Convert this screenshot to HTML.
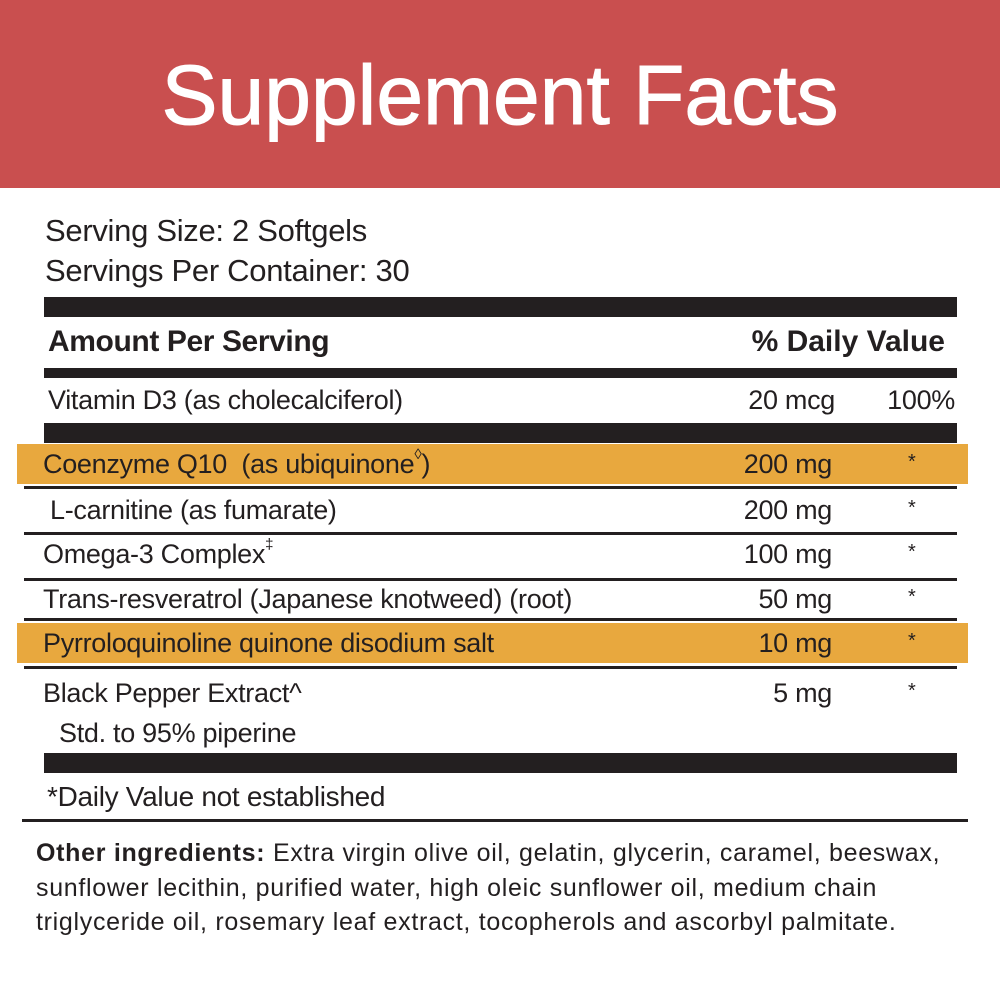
<!DOCTYPE html>
<html><head><meta charset="utf-8"><style>
body{margin:0;width:1000px;height:1000px;background:#fff;position:relative;overflow:hidden;font-family:"Liberation Sans",sans-serif;color:#231f20}
.hd{position:absolute;left:0;top:0;width:1000px;height:188px;background:#c94f4f}
.title{position:absolute;left:0;top:45px;width:1000px;text-align:center;color:#fff;font-size:84px;line-height:100px;-webkit-text-stroke:1px #fff}
.t{position:absolute;font-size:27px;line-height:30px;white-space:nowrap;letter-spacing:-0.3px}
.b{position:absolute;background:#231f20}
.o{position:absolute;background:#e8a83e}
.r{text-align:right}
.s{position:absolute;font-size:20px;line-height:30px}
sup{font-size:15px;line-height:0;position:relative;top:-4px;vertical-align:super}
.small{font-size:25px;line-height:34.5px;position:absolute;left:36px;top:836px;width:960px;color:#231f20;letter-spacing:0.7px;white-space:nowrap}
</style></head><body>
<div class="hd"></div>
<div class="title">Supplement Facts</div>
<div class="t" style="left:45px;top:216px;font-size:31px">Serving Size: 2 Softgels</div>
<div class="t" style="left:45px;top:256px;font-size:31px">Servings Per Container: 30</div>
<div class="b" style="left:44px;top:297px;width:913px;height:20px"></div>
<div class="t" style="left:48px;top:327px;font-weight:bold;font-size:30px;letter-spacing:-0.4px">Amount Per Serving</div>
<div class="t r" style="left:700px;width:245px;top:327px;font-weight:bold;font-size:30px;letter-spacing:0px">% Daily Value</div>
<div class="b" style="left:44px;top:368px;width:913px;height:10px"></div>
<div class="t" style="left:48px;top:385px">Vitamin D3 (as cholecalciferol)</div>
<div class="t r" style="left:700px;width:135px;top:385px">20 mcg</div>
<div class="t r" style="left:850px;width:105px;top:385px">100%</div>
<div class="b" style="left:44px;top:423px;width:913px;height:20px"></div>
<div class="o" style="left:17px;top:444px;width:951px;height:40px"></div>
<div class="t" style="left:43px;top:449px">Coenzyme Q10&nbsp; (as ubiquinone<sup>◊</sup>)</div>
<div class="t r" style="left:700px;width:132px;top:449px">200 mg</div>
<div class="s" style="left:908px;top:447px">*</div>
<div class="b" style="left:24px;top:486px;width:933px;height:3px"></div>
<div class="t" style="left:50px;top:495px">L-carnitine (as fumarate)</div>
<div class="t r" style="left:700px;width:132px;top:495px">200 mg</div>
<div class="s" style="left:908px;top:493px">*</div>
<div class="b" style="left:24px;top:532px;width:933px;height:3px"></div>
<div class="t" style="left:43px;top:539px">Omega-3 Complex<sup>‡</sup></div>
<div class="t r" style="left:700px;width:132px;top:539px">100 mg</div>
<div class="s" style="left:908px;top:537px">*</div>
<div class="b" style="left:24px;top:578px;width:933px;height:3px"></div>
<div class="t" style="left:43px;top:584px">Trans-resveratrol (Japanese knotweed) (root)</div>
<div class="t r" style="left:700px;width:132px;top:584px">50 mg</div>
<div class="s" style="left:908px;top:582px">*</div>
<div class="b" style="left:24px;top:618px;width:933px;height:3px"></div>
<div class="o" style="left:17px;top:623px;width:951px;height:40px"></div>
<div class="t" style="left:43px;top:628px">Pyrroloquinoline quinone disodium salt</div>
<div class="t r" style="left:700px;width:132px;top:628px">10 mg</div>
<div class="s" style="left:908px;top:626px">*</div>
<div class="b" style="left:24px;top:666px;width:933px;height:3px"></div>
<div class="t" style="left:43px;top:678px">Black Pepper Extract^</div>
<div class="t r" style="left:700px;width:132px;top:678px">5 mg</div>
<div class="s" style="left:908px;top:676px">*</div>
<div class="t" style="left:59px;top:718px">Std. to 95% piperine</div>
<div class="b" style="left:44px;top:753px;width:913px;height:20px"></div>
<div class="t" style="left:47px;top:782px;font-size:28px">*Daily Value not established</div>
<div class="b" style="left:22px;top:819px;width:946px;height:3px"></div>
<div class="small"><b>Other ingredients:</b> Extra virgin olive oil, gelatin, glycerin, caramel, beeswax,<br>sunflower lecithin, purified water, high oleic sunflower oil, medium chain<br>triglyceride oil, rosemary leaf extract, tocopherols and ascorbyl palmitate.</div>
</body></html>
